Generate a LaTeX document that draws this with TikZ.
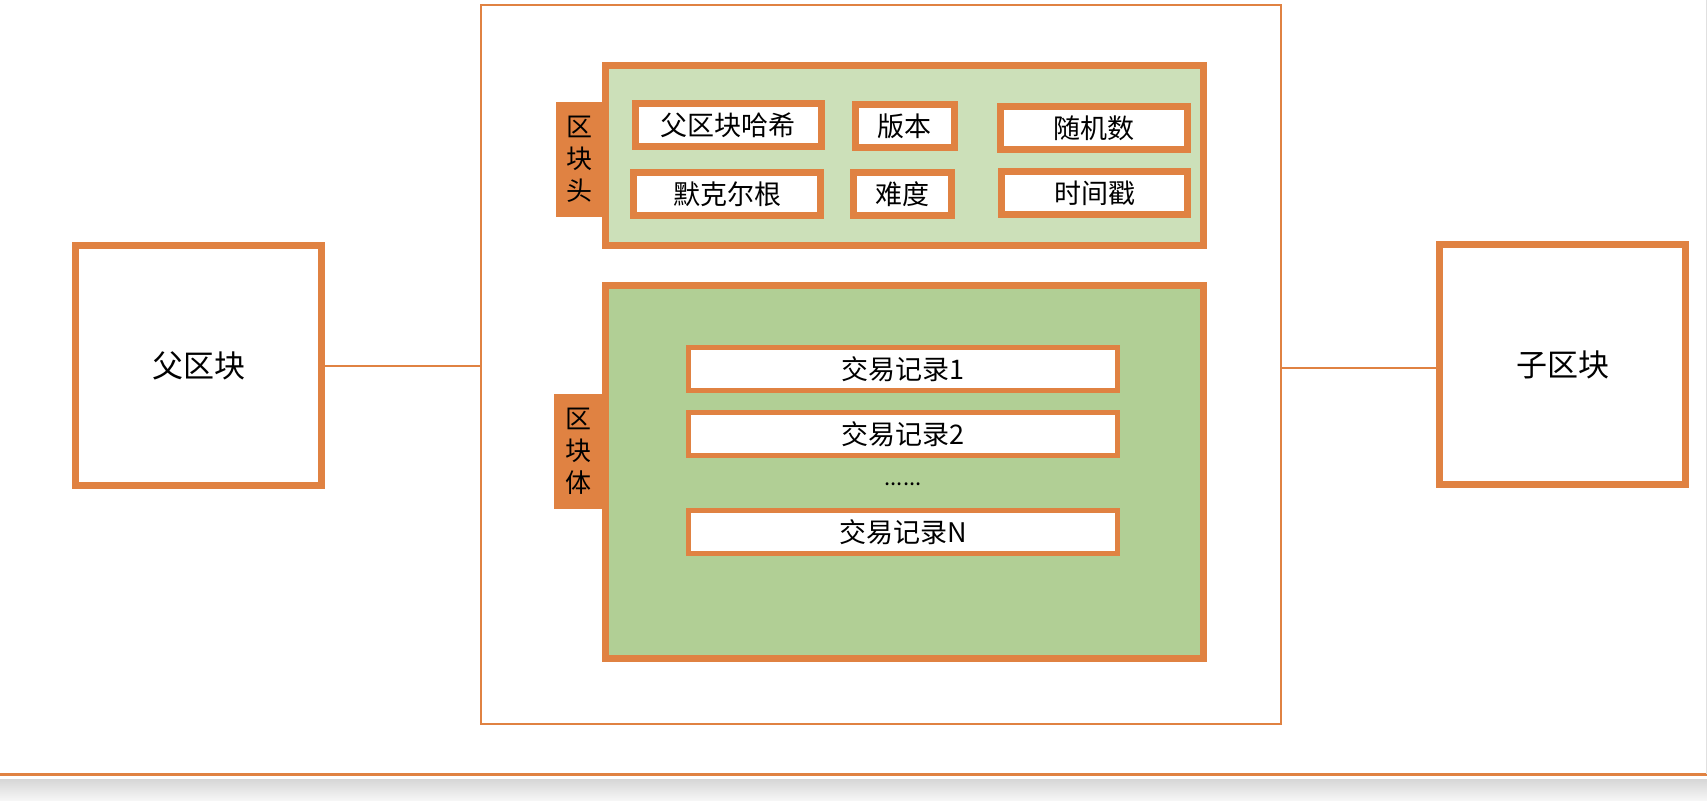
\documentclass[tikz,border=0pt]{standalone}
\usepackage{fontspec}
\setmainfont{Noto Sans CJK SC}
\definecolor{org}{RGB}{224,130,66}
\definecolor{hdrgreen}{RGB}{204,224,185}
\definecolor{bodygreen}{RGB}{177,207,149}
\definecolor{shadetop}{RGB}{214,214,214}
\definecolor{shadebot}{RGB}{246,246,246}
\tikzset{
  bigblock/.style={draw=org, line width=7pt, fill=white, inner sep=0pt, font=\fontsize{31}{36}\selectfont},
  section/.style={draw=org, line width=7pt, inner sep=0pt},
  tabbox/.style={fill=org, inner sep=0pt, align=center, font=\fontsize{26}{32}\selectfont},
  field/.style={draw=org, line width=7pt, fill=white, inner sep=0pt, minimum height=42.7pt, font=\fontsize{27}{30}\selectfont},
  record/.style={draw=org, line width=5pt, fill=white, inner sep=0pt, minimum width=429pt, minimum height=42.7pt, font=\fontsize{27}{30}\selectfont},
  conn/.style={draw=org, line width=2pt},
}
\begin{document}
\begin{tikzpicture}[x=1pt,y=-1pt]
\useasboundingbox (0,0) rectangle (1707,800);
% bottom screenshot strip
\shade[top color=shadetop, bottom color=shadebot] (0,779) rectangle (1707,800);
\draw[org, line width=2.5pt] (0,774.7) -- (1707,774.7);
\draw[black!12, line width=1pt] (1706,0) -- (1706,774);
% outer container
\node[draw=org, line width=1.3pt, inner sep=0pt, minimum width=800pt, minimum height=719pt] (O) at (881,364.5) {};
% parent and child blocks
\node[bigblock, minimum width=246pt, minimum height=240pt] (P) at (198.5,365.5) {父区块};
\node[bigblock, minimum width=246pt, minimum height=239.4pt] (C) at (1562.5,364.5) {子区块};
% header
\node[tabbox, minimum width=46pt, minimum height=115pt] (HT) at (579,159.5) {区\\块\\头};
\node[section, fill=hdrgreen, minimum width=597.5pt, minimum height=180pt] (H) at (904.25,155.5) {};
\node[field, minimum width=185.5pt] (f1) at (728.25,124.85) {父区块哈希};
\node[field, minimum width=98.6pt] (f2) at (904.8,125.85) {版本};
\node[field, minimum width=186.5pt] (f3) at (1093.75,127.85) {随机数};
\node[field, minimum width=187pt] (f4) at (727,193.85) {默克尔根};
\node[field, minimum width=98.4pt] (f5) at (902.7,193.85) {难度};
\node[field, minimum width=186pt] (f6) at (1094.5,192.85) {时间戳};
% body
\node[tabbox, minimum width=48pt, minimum height=114.7pt] (BT) at (578,451.35) {区\\块\\体};
\node[section, fill=bodygreen, minimum width=597.5pt, minimum height=372.7pt] (B) at (904.25,471.85) {};
\node[record] (r1) at (903,368.85) {交易记录1};
\node[record] (r2) at (903,433.85) {交易记录2};
\node[inner sep=0pt, font=\fontsize{22}{24}\selectfont] (dots) at (903,484.5) {......};
\node[record] (rN) at (903,531.85) {交易记录N};
% connectors
\draw[conn] (P.east) -- (P.east -| O.west);
\coordinate (cr) at (1281,368.3);
\draw[conn] (cr) -- (cr -| C.west);
\end{tikzpicture}
\end{document}
